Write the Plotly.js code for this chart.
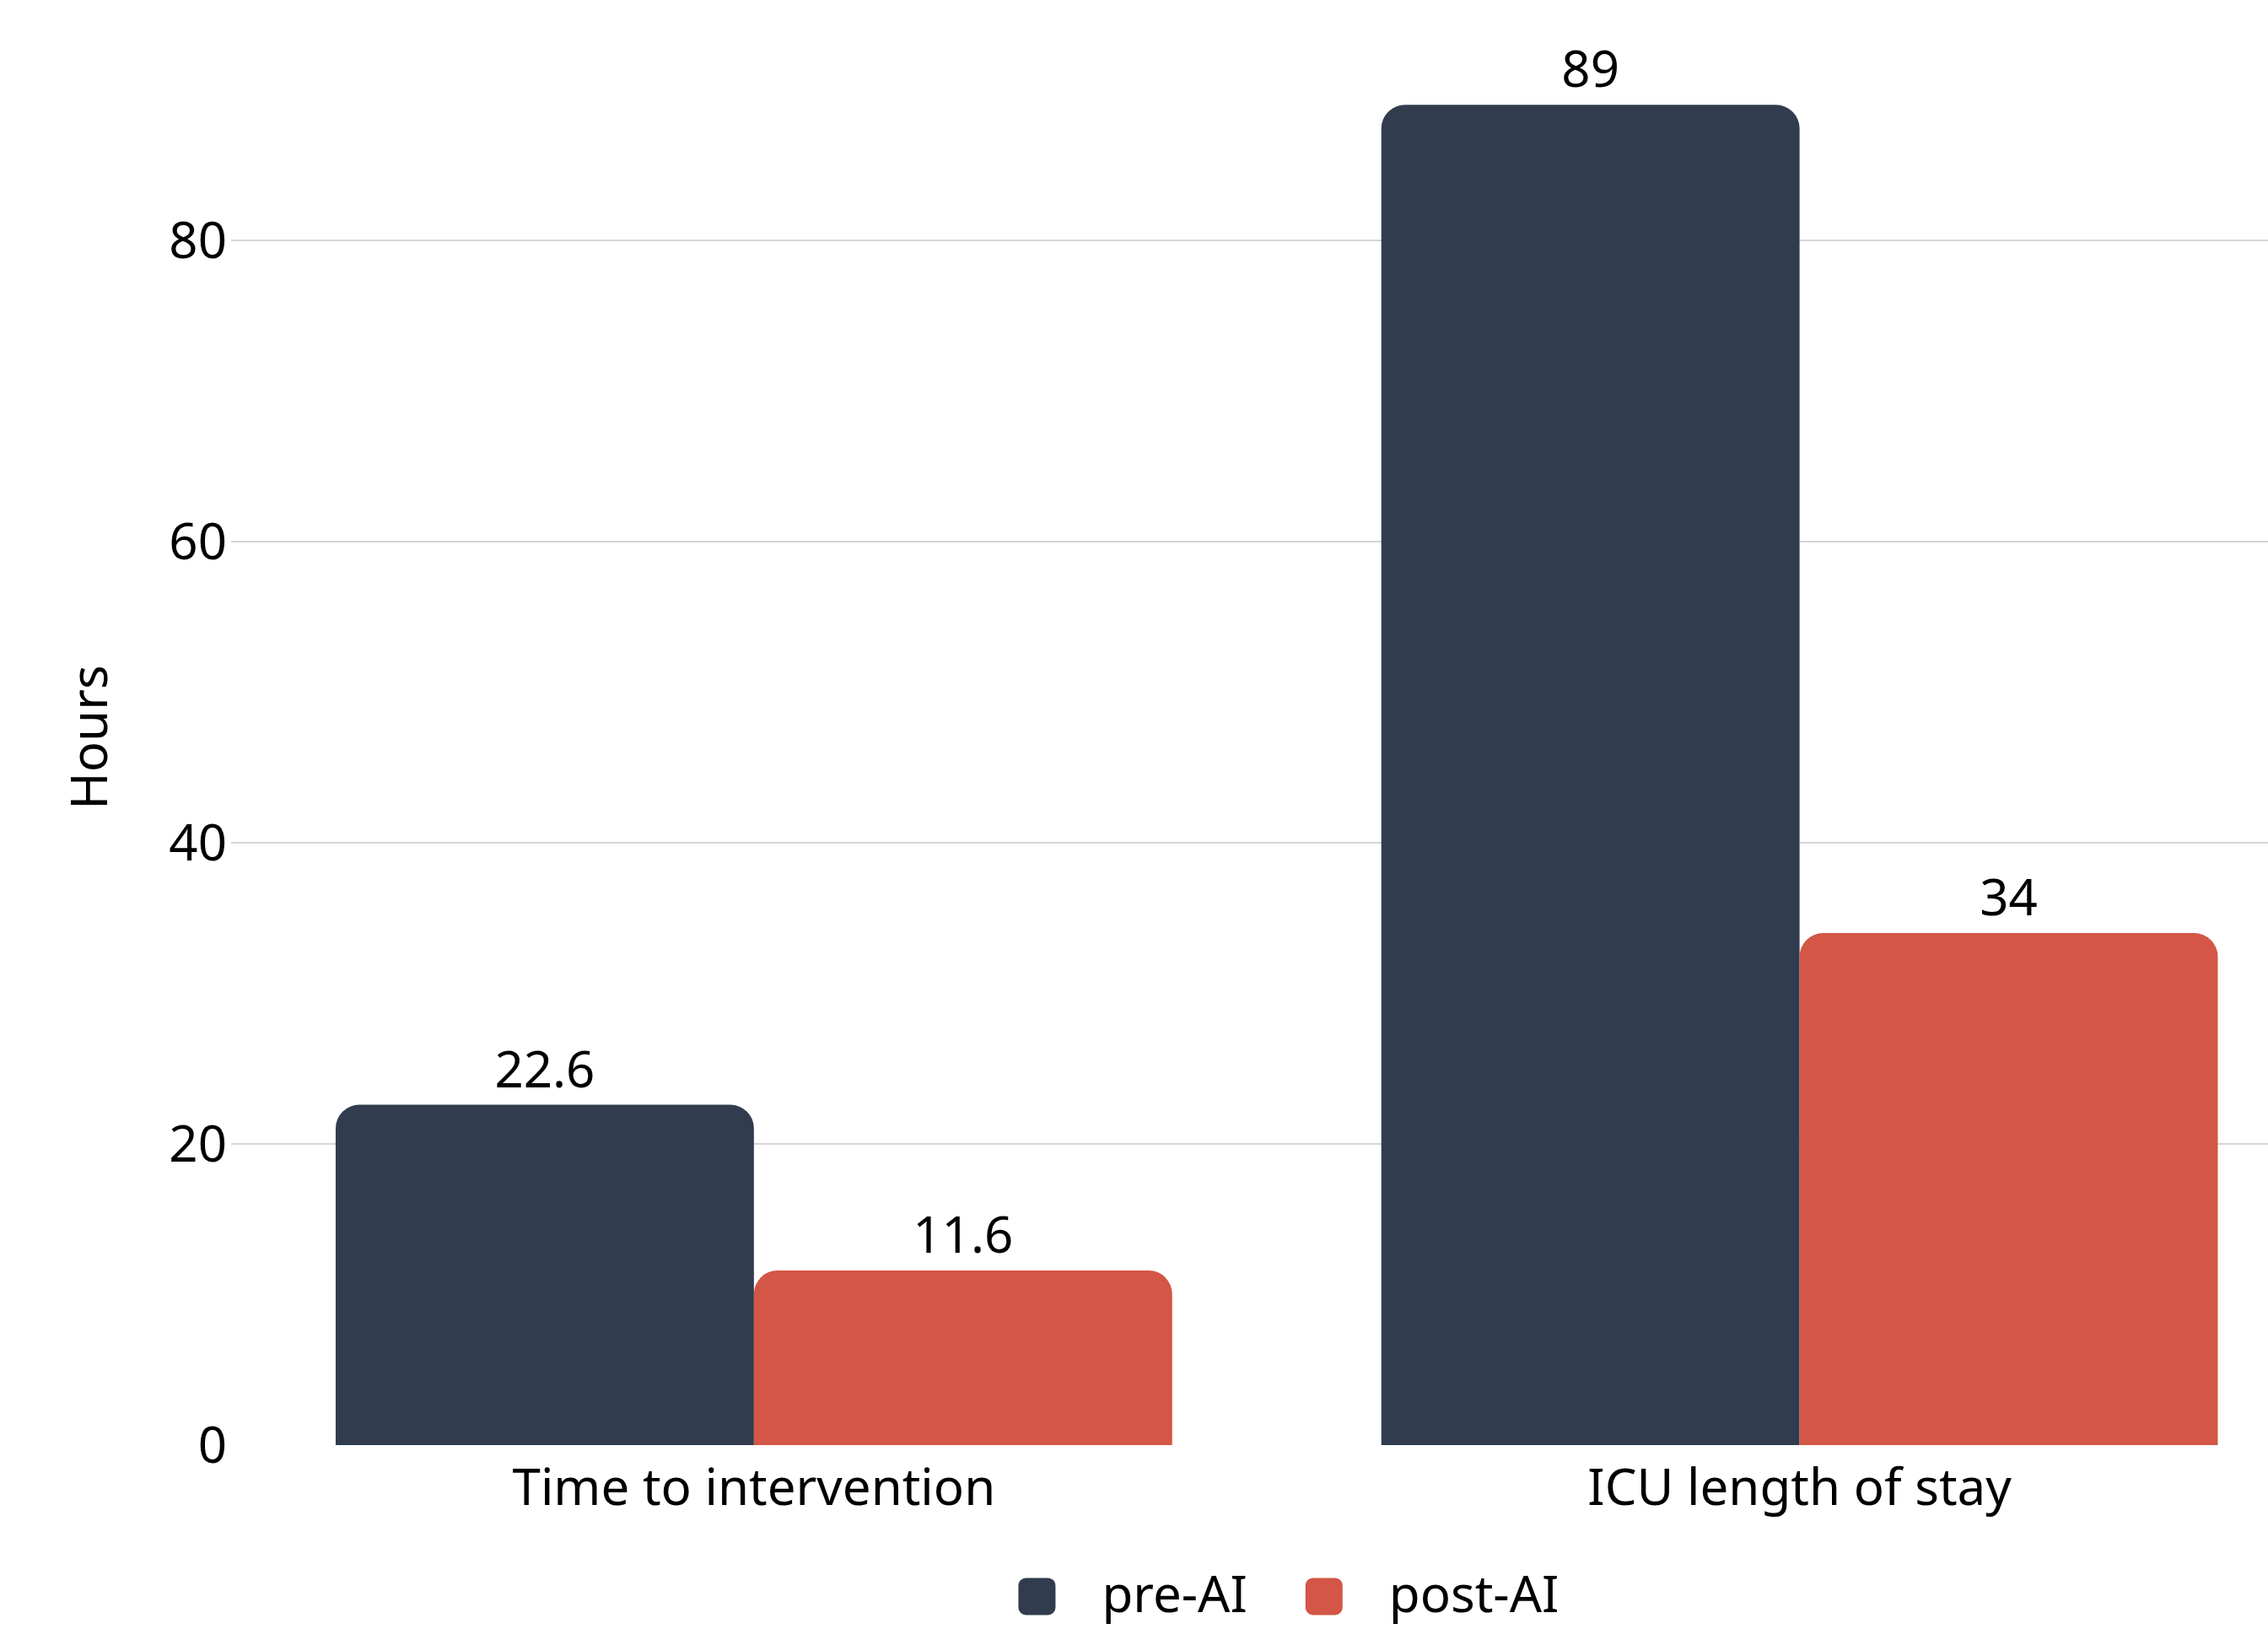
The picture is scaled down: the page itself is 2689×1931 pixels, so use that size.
<!DOCTYPE html>
<html>
<head>
<meta charset="utf-8">
<script src="https://cdn.plot.ly/plotly-3.0.1.min.js"></script>
<style>html,body{margin:0;padding:0;background:#fff;}#chart{width:2689px;height:1931px;}</style>
</head>
<body>
<div id="chart"></div>
<script>
const categories = ["Time to intervention", "ICU length of stay"];
const preAI = [22.6, 89];
const postAI = [11.6, 34];
const seriesNames = ["pre-AI", "post-AI"];
const yTicks = [0, 20, 40, 60, 80];
const colors = ["#313d4f", "#d35646"];

const font = "Noto Sans, Open Sans, sans-serif";
const FS = 60;
const traces = [
  {type: "bar", name: seriesNames[0], x: categories, y: preAI, text: preAI.map(String),
   textposition: "outside", cliponaxis: false, marker: {color: colors[0], cornerradius: 28},
   textfont: {size: FS, color: "#000"}},
  {type: "bar", name: seriesNames[1], x: categories, y: postAI, text: postAI.map(String),
   textposition: "outside", cliponaxis: false, marker: {color: colors[1], cornerradius: 28},
   textfont: {size: FS, color: "#000"}}
];
const layout = {
  width: 2689, height: 1931,
  margin: {l: 274, r: 0, t: 35, b: 218, autoexpand: false},
  paper_bgcolor: "#fff", plot_bgcolor: "#fff",
  font: {family: font, size: FS, color: "#000"},
  barmode: "group", bargap: 0.2, bargroupgap: 0,
  xaxis: {range: [-0.5, 1.448], showgrid: false, zeroline: false, showline: false, ticks: "",
          ticklabelstandoff: 10, tickfont: {size: FS}},
  yaxis: {range: [0, 94], tickvals: yTicks, showgrid: true, gridcolor: "#d6d6d6", gridwidth: 2,
          zeroline: true, zerolinecolor: "#ffffff", zerolinewidth: 2, showline: false, ticks: "",
          ticklabelstandoff: 4,
          title: {text: "Hours", font: {size: FS}, standoff: 53}, tickfont: {size: FS}},
  showlegend: true,
  legend: {orientation: "h", xref: "container", yref: "container", x: 1212/2689 - 0.0255, xanchor: "left",
           y: 1 - 1888/1931, yanchor: "middle", font: {size: FS}, itemwidth: 153, traceorder: "normal"}
};
Plotly.newPlot("chart", traces, layout, {displayModeBar: false, staticPlot: true}).then(function (gd) {
  // enlarge legend swatches to rounded squares placed before their labels
  const items = gd.querySelectorAll(".legend .traces");
  items.forEach(function (item) {
    const txt = item.querySelector(".legendtext");
    const path = item.querySelector(".legendpoints path");
    if (!txt || !path) return;
    const tb = txt.getBoundingClientRect();
    path.setAttribute("d", "M0,0");
    const m = path.parentNode.getScreenCTM();
    const cxScreen = tb.left - 55 - 22;
    const cyScreen = tb.top + tb.height / 2 + 4;
    const cx = cxScreen - m.e, cy = cyScreen - m.f;
    const w = 44, h = 44, r = 9;
    const x0 = cx - w / 2, y0 = cy - h / 2;
    const d = "M" + (x0 + r) + "," + y0 + "H" + (x0 + w - r) + "A" + r + "," + r + " 0 0 1 " + (x0 + w) + "," + (y0 + r) +
      "V" + (y0 + h - r) + "A" + r + "," + r + " 0 0 1 " + (x0 + w - r) + "," + (y0 + h) +
      "H" + (x0 + r) + "A" + r + "," + r + " 0 0 1 " + x0 + "," + (y0 + h - r) +
      "V" + (y0 + r) + "A" + r + "," + r + " 0 0 1 " + (x0 + r) + "," + y0 + "Z";
    path.setAttribute("d", d);
    path.removeAttribute("transform");
  });
});
</script>
</body>
</html>
